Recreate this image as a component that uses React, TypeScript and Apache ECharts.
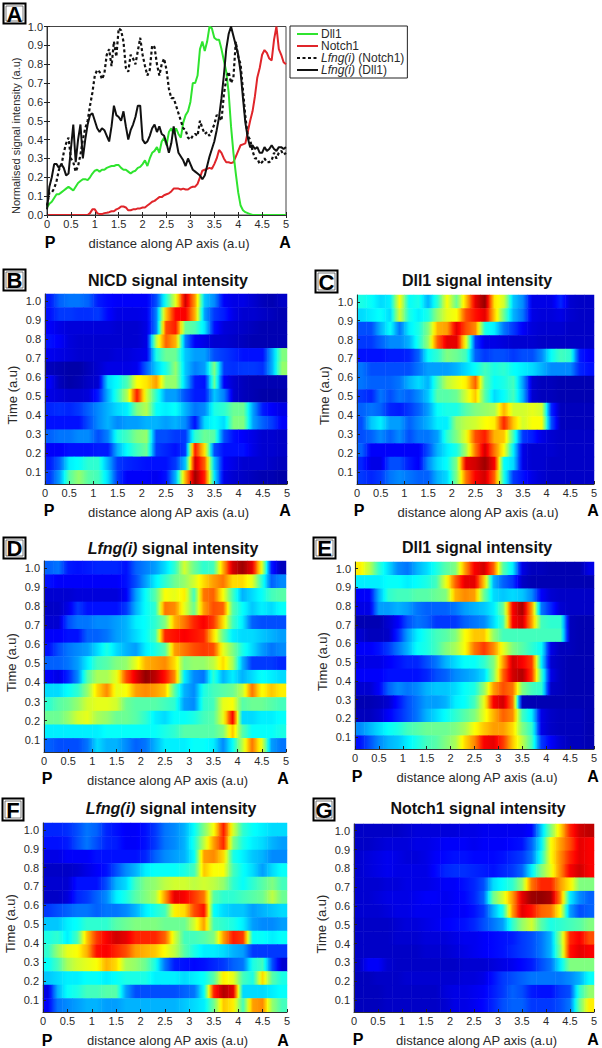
import React, { useEffect, useRef } from "react";
import * as echarts from "echarts";

const xTickLabels = [0, 0.5, 1, 1.5, 2, 2.5, 3, 3.5, 4, 4.5, 5];
const yTickLabels = [0.1, 0.2, 0.3, 0.4, 0.5, 0.6, 0.7, 0.8, 0.9, 1.0];

// Panel A, sampled every 0.05 a.u.
const dll1Line = [.04,.06,.07,.09,.11,.11,.12,.13,.14,.15,.14,.13,.15,.17,.18,.19,.19,.185,.20,.22,.235,.24,.23,.24,.24,.25,.255,.26,.26,.265,.265,.25,.24,.24,.23,.22,.23,.235,.25,.255,.27,.29,.26,.30,.33,.34,.36,.33,.39,.41,.37,.44,.46,.43,.46,.43,.41,.49,.53,.55,.60,.70,.70,.74,.88,.92,.87,.92,1.0,.99,.94,.93,.93,.88,.82,.76,.65,.47,.33,.22,.12,.05,.025,.015,.01,.005,0,0,0,0,0,0,0,0,0,0,0,0,0,0,0];
const notch1Line = [0,0,0,0,0,0,0,0,0,0,0,0,0,0,0,0,0,0,.01,.03,.03,.01,.005,.005,.01,.012,.015,.02,.02,.03,.035,.045,.045,.04,.025,.025,.03,.03,.035,.035,.04,.04,.05,.06,.07,.075,.085,.095,.095,.105,.11,.115,.125,.14,.14,.14,.135,.14,.135,.135,.145,.15,.15,.165,.20,.235,.24,.245,.25,.245,.27,.30,.345,.33,.30,.28,.28,.275,.28,.31,.34,.37,.375,.38,.44,.50,.55,.63,.73,.78,.85,.875,.86,.83,.82,.93,1.0,.88,.85,.81,.80];
const lfngNotch1Line = [.05,.12,.12,.14,.18,.24,.26,.33,.38,.41,.30,.28,.23,.26,.32,.40,.46,.50,.58,.65,.74,.77,.76,.72,.75,.85,.88,.79,.92,.84,.99,.98,.92,.78,.76,.85,.83,.80,.87,.94,.85,.79,.74,.77,.90,.89,.80,.74,.80,.83,.77,.67,.62,.62,.58,.54,.50,.46,.45,.41,.40,.42,.43,.42,.50,.46,.43,.44,.42,.45,.48,.53,.52,.50,.64,.72,.76,.70,.73,.92,.84,.80,.66,.52,.42,.40,.34,.30,.30,.27,.28,.30,.28,.28,.29,.33,.30,.33,.34,.32,.33];
const lfngDll1Line = [.03,.15,.20,.27,.27,.25,.27,.25,.21,.22,.35,.48,.28,.40,.48,.30,.40,.48,.53,.54,.50,.46,.44,.46,.45,.42,.39,.47,.58,.53,.52,.50,.55,.47,.40,.45,.48,.52,.58,.58,.40,.38,.39,.42,.46,.48,.44,.47,.43,.42,.38,.33,.38,.47,.40,.33,.31,.29,.26,.30,.27,.24,.23,.22,.21,.19,.21,.26,.31,.35,.39,.45,.52,.62,.74,.88,.96,1.0,.95,.90,.85,.76,.62,.49,.41,.36,.37,.35,.36,.33,.33,.36,.34,.35,.37,.35,.34,.36,.36,.35,.36];

// Heat panels: 14 rows from t=1.0 (top) to t=0.07, 25 columns of 0.2 a.u., values 0-100
const nicdB = [
[15,22,24,24,22,15,13,12,12,12,12,20,40,60,92,72,32,26,12,10,10,8,6,5,7],
[14,18,18,17,17,18,13,10,10,10,11,25,68,87,88,70,28,18,15,10,8,8,7,6,5],
[12,10,9,9,9,9,9,8,8,8,10,25,80,85,48,45,35,14,9,8,7,6,5,5,5],
[14,12,9,8,8,8,8,8,8,8,10,55,78,70,25,12,10,8,8,7,6,5,5,5,5],
[11,10,9,8,8,8,8,9,9,10,11,40,48,48,32,28,28,20,18,16,14,14,14,30,50],
[6,5,4,4,6,8,10,10,10,11,22,33,40,52,32,25,28,50,18,17,18,18,17,30,52],
[12,6,4,5,7,8,34,38,45,62,65,72,52,52,32,15,14,48,12,8,6,5,5,5,5],
[10,9,8,8,9,15,30,42,55,85,58,42,28,28,20,15,15,32,25,8,6,5,4,4,4],
[16,17,16,18,22,26,30,34,36,50,55,38,36,38,30,24,26,40,42,48,48,28,15,12,10],
[14,14,14,14,20,26,30,26,28,28,30,30,28,30,26,14,34,38,34,50,50,28,22,18,12],
[22,24,24,26,26,20,25,40,44,50,52,20,20,18,18,42,48,46,20,14,12,10,8,8,7],
[12,12,14,14,14,15,15,30,38,44,48,18,16,14,18,85,65,20,14,14,14,10,8,8,7],
[15,22,36,38,42,42,30,18,16,15,14,14,14,18,32,92,78,32,12,10,8,8,8,7,6],
[18,28,46,52,46,44,34,18,12,12,12,11,14,30,70,97,84,35,10,8,7,6,5,5,4],
];
const dll1C = [
[40,38,34,36,62,38,40,30,42,62,48,68,90,98,65,58,32,26,10,10,10,16,8,7,7],
[34,36,38,34,58,40,36,40,52,60,62,80,86,90,68,48,30,24,10,9,9,10,8,7,7],
[20,20,30,38,24,36,40,50,70,72,90,80,74,40,36,24,18,12,9,8,8,8,7,7,7],
[18,18,22,26,26,30,40,52,78,90,90,60,18,10,10,9,8,8,8,7,7,7,7,7,7],
[14,14,14,15,15,16,22,38,42,50,48,44,22,18,20,20,18,20,20,26,38,44,42,15,12],
[24,20,20,20,20,20,24,28,28,28,30,34,38,44,40,42,38,36,34,30,26,26,26,16,14],
[24,22,22,22,24,30,34,30,44,56,60,64,78,46,38,40,44,28,8,6,6,5,5,5,5],
[18,16,24,20,24,22,26,32,46,46,48,58,68,46,34,38,44,30,8,6,6,5,5,5,5],
[22,24,22,16,15,18,22,28,38,40,40,46,50,52,54,70,58,58,60,58,16,6,6,6,6],
[20,32,36,28,28,22,26,30,36,36,52,56,58,62,64,84,68,58,62,62,20,6,6,6,6],
[20,22,26,22,26,20,24,24,28,42,50,60,80,85,70,68,44,18,15,10,8,7,7,7,7],
[22,12,12,12,12,12,12,20,30,36,40,54,76,92,76,62,36,10,8,8,8,7,7,7,7],
[16,10,10,20,20,15,12,26,34,38,50,90,92,97,88,38,34,10,8,8,7,7,7,7,7],
[18,16,18,24,26,24,22,22,30,34,50,76,88,92,78,40,18,14,10,8,7,7,7,7,7],
];
const lfngD = [
[22,24,15,14,15,16,16,16,14,22,25,28,34,42,58,48,42,44,70,92,97,90,60,15,6],
[14,12,12,12,12,12,12,12,14,20,28,36,42,48,52,58,66,72,76,66,66,60,42,22,26],
[8,8,8,9,9,9,9,9,12,28,38,46,62,60,64,44,76,78,62,44,30,34,38,44,46],
[7,7,10,18,14,14,14,14,18,30,38,42,76,74,60,48,72,80,78,46,38,32,36,34,38],
[8,8,20,24,24,26,26,28,30,36,38,42,50,70,76,84,88,82,66,44,36,22,20,20,20],
[12,12,14,14,22,22,24,28,30,34,38,44,84,86,88,86,84,66,48,36,34,34,32,30,28],
[14,20,24,26,28,34,40,34,30,28,36,40,46,72,76,80,82,80,60,50,40,34,28,24,26],
[22,22,24,28,36,44,46,50,52,60,70,72,74,66,50,52,52,56,66,54,30,18,18,18,16],
[12,10,16,26,46,54,54,60,80,90,98,94,86,74,36,26,24,42,30,36,30,34,38,36,34],
[34,34,38,42,52,66,74,60,62,72,74,72,68,46,30,26,40,44,46,48,56,76,62,68,64],
[42,46,48,52,58,60,60,58,48,46,46,46,44,42,28,26,42,44,60,62,46,48,48,46,44],
[48,48,52,58,60,54,52,48,48,46,42,36,34,38,38,40,44,46,60,88,34,34,36,36,38],
[36,36,36,36,36,36,38,38,38,38,38,38,40,42,46,46,46,46,50,68,46,38,38,38,40],
[22,20,20,20,24,34,30,30,26,22,24,30,36,36,36,38,38,36,26,38,56,76,60,28,24],
];
const dll1E = [
[64,56,42,34,26,24,30,34,40,46,50,72,88,92,78,46,36,10,6,6,5,5,5,5,10],
[36,36,36,38,38,36,38,40,44,60,78,90,90,68,30,22,18,7,5,5,5,5,5,5,5],
[12,12,30,42,44,44,46,46,48,50,70,74,72,48,34,32,34,32,26,12,8,7,7,7,7],
[10,10,28,28,30,28,24,22,22,22,24,28,30,32,36,48,88,96,72,24,16,8,7,7,7],
[5,5,5,8,12,20,24,22,18,18,18,22,24,26,34,44,88,92,72,44,42,42,6,5,5],
[8,6,6,7,16,28,36,40,44,46,50,62,68,68,52,44,44,44,44,44,44,44,6,5,5],
[12,12,14,18,24,30,38,40,44,50,54,62,76,82,74,60,50,46,42,38,10,6,6,5,5],
[10,10,10,12,14,16,16,20,24,30,34,38,38,42,50,72,92,88,82,36,8,6,5,5,5],
[12,12,12,14,14,14,14,16,20,22,26,28,30,34,50,78,92,95,82,44,10,6,5,5,5],
[8,8,12,22,26,24,26,30,32,32,34,38,40,52,72,80,76,50,44,42,7,6,5,5,5],
[5,5,6,8,14,20,24,28,28,30,36,38,44,60,88,92,76,6,5,5,5,5,5,5,5],
[6,6,8,12,16,20,24,30,34,38,42,46,50,60,70,78,74,44,36,10,7,6,6,6,5],
[26,30,34,38,40,44,46,48,48,48,50,54,62,68,72,72,66,50,42,10,7,6,6,6,5],
[14,20,26,30,32,36,40,44,46,50,54,66,74,88,90,82,68,56,44,18,12,8,6,6,5],
];
const lfngF = [
[16,16,17,20,24,22,16,14,12,12,14,18,24,26,30,38,50,62,85,58,42,38,36,34,34],
[14,14,15,20,24,20,16,15,12,12,14,18,24,26,30,40,56,72,84,50,40,36,34,30,28],
[10,10,12,12,12,14,14,14,14,14,16,22,26,28,30,38,72,74,66,40,36,32,30,26,26],
[7,7,7,8,10,12,14,20,26,30,36,38,38,38,40,44,68,62,62,44,38,34,28,34,38],
[8,8,8,14,14,14,20,30,34,44,50,52,56,58,58,56,58,56,52,42,38,42,46,50,44],
[7,7,9,16,18,22,26,36,40,46,50,54,72,90,88,82,76,46,42,42,44,46,48,56,48],
[18,20,22,24,24,22,24,24,26,30,36,40,44,64,66,80,86,38,34,32,32,28,30,32,34],
[32,32,36,38,42,42,42,46,48,50,50,50,48,48,48,58,72,44,42,40,36,28,26,26,28],
[40,42,36,44,68,82,88,92,90,84,84,84,78,58,44,44,46,50,72,85,82,38,38,36,38],
[42,52,60,62,70,86,88,84,80,72,70,68,62,56,46,40,36,36,34,30,28,18,18,18,18],
[38,44,54,58,60,62,70,66,54,52,48,40,24,15,14,13,14,16,18,22,24,40,44,20,8],
[32,34,36,36,38,38,36,38,40,40,40,36,36,36,34,36,38,46,64,60,44,40,66,46,40],
[10,30,38,40,44,44,46,46,28,20,20,20,20,20,22,24,38,84,95,90,34,34,34,36,38],
[12,24,26,28,30,30,28,28,30,30,30,30,30,30,32,34,36,48,68,64,44,72,74,52,44],
];
const notch1G = [
[7,7,7,7,7,8,9,9,9,9,9,10,10,11,11,11,11,11,13,32,50,66,84,92,94],
[7,7,8,9,9,9,10,10,11,12,12,12,11,12,12,12,13,14,22,36,62,72,80,90,88],
[8,9,10,11,10,9,9,10,12,13,14,14,13,13,13,14,16,18,24,40,62,74,84,90,88],
[8,9,10,11,10,10,10,10,13,16,17,17,16,15,14,16,18,22,36,50,60,74,88,92,88],
[8,8,8,9,9,10,10,10,11,12,12,14,16,20,34,38,42,52,76,84,84,72,64,50,50],
[8,8,9,10,10,10,11,12,12,11,12,13,16,22,48,58,72,90,97,98,96,74,36,26,22],
[8,8,8,9,10,10,11,11,11,11,12,12,14,18,30,40,72,90,86,78,76,62,28,20,22],
[7,7,7,7,8,9,9,10,11,12,13,14,16,20,24,28,42,52,58,46,40,42,44,46,50],
[7,7,7,7,8,8,8,9,9,9,10,11,11,12,13,14,15,18,20,24,30,52,84,88,80],
[7,7,7,7,7,7,7,8,8,8,9,10,11,12,13,14,16,18,20,24,30,50,86,90,88],
[7,12,12,8,7,7,7,7,7,7,7,8,8,8,9,10,11,13,15,20,24,36,50,50,50],
[6,6,7,7,7,8,8,8,8,8,8,9,9,10,14,18,20,22,24,24,24,24,26,30,38],
[6,6,6,7,7,7,7,7,7,9,10,10,11,12,15,18,22,20,15,14,14,18,20,42,52],
[6,6,6,7,7,7,7,7,7,8,10,10,11,13,16,20,22,22,18,18,18,20,24,48,64],
];

const FONT = "'Liberation Sans', Arial, sans-serif";
const TEXT = "#2a2a2a";

type Panel = {
  letter: string; rows: number[][]; title: string;
  grid: number[]; box: number[]; titleAt: number[]; pAt: number[]; aAt: number[];
};
const panels: Panel[] = [
  { letter: "B", rows: nicdB, title: "NICD signal intensity", grid: [45, 294, 287, 484], box: [3, 269, 22, 21], titleAt: [168, 280], pAt: [49, 510], aAt: [285, 510] },
  { letter: "C", rows: dll1C, title: "Dll1 signal intensity", grid: [357, 295, 594, 484], box: [315, 270, 22, 22], titleAt: [477, 280], pAt: [359, 510], aAt: [593, 510] },
  { letter: "D", rows: lfngD, title: "{i|Lfng(i)} signal intensity", grid: [44, 561, 286, 752], box: [3, 537, 22, 21], titleAt: [173, 548], pAt: [47, 778], aAt: [283, 778] },
  { letter: "E", rows: dll1E, title: "Dll1 signal intensity", grid: [355, 562, 594, 749], box: [313, 537, 22, 21], titleAt: [477, 547], pAt: [357, 776], aAt: [593, 776] },
  { letter: "F", rows: lfngF, title: "{i|Lfng(i)} signal intensity", grid: [43, 823, 287, 1014], box: [2, 798, 21, 22], titleAt: [171, 808], pAt: [47, 1040], aAt: [283, 1040] },
  { letter: "G", rows: notch1G, title: "Notch1 signal intensity", grid: [354, 824, 594, 1013], box: [313, 798, 21, 22], titleAt: [478, 808], pAt: [358, 1039], aAt: [593, 1039] },
];

const jetStops: [number, number[]][] = [
  [0, [0, 0, 128]], [12.5, [0, 0, 255]], [37.5, [0, 255, 255]], [50, [128, 255, 128]],
  [62.5, [255, 255, 0]], [87.5, [255, 0, 0]], [100, [128, 0, 0]],
];
function jet(v: number): string {
  for (let i = 1; i < jetStops.length; i++) {
    const [b, cb] = jetStops[i];
    const [a, ca] = jetStops[i - 1];
    if (v <= b) {
      const t = (v - a) / (b - a);
      return `rgb(${ca.map((c, k) => Math.round(c + (cb[k] - c) * t)).join(",")})`;
    }
  }
  return "rgb(128,0,0)";
}

function cellColor(row: number[], i: number) {
  const v = row[i];
  const l = i > 0 ? (row[i - 1] + v) / 2 : v;
  const r = i < row.length - 1 ? (row[i + 1] + v) / 2 : v;
  return {
    type: "linear", x: 0, y: 0, x2: 1, y2: 0,
    colorStops: [
      { offset: 0, color: jet(l) },
      { offset: 0.25, color: jet((l + v) / 2) },
      { offset: 0.5, color: jet(v) },
      { offset: 0.75, color: jet((r + v) / 2) },
      { offset: 1, color: jet(r) },
    ],
  };
}

function letterBox(letter: string, b: number[]) {
  const [x, y, w, h] = b;
  return [
    { type: "rect", shape: { x: x + 0.5, y: y + 0.5, width: w, height: h }, style: { fill: "#fff", stroke: "#000", lineWidth: 2 } },
    { type: "rect", shape: { x: x + 3, y: y + 3, width: w - 5, height: h - 5 }, style: { fill: "none", stroke: "#444", lineWidth: 0.7 } },
    { type: "text", x: x + w / 2 + 0.5, y: y + h / 2 + 1, style: { text: letter, font: `bold 22px ${FONT}`, fill: "#000", align: "center", verticalAlign: "middle" } },
  ];
}
function mark(text: string, at: number[]) {
  return { type: "text", x: at[0], y: at[1], style: { text, font: `bold 16px ${FONT}`, fill: "#000", align: "center", verticalAlign: "middle" } };
}

const visibleX = (gridIndex: number) => ({
  type: "value", gridIndex, min: 0, max: 5, position: "bottom", z: 6,
  name: "distance along AP axis (a.u)", nameLocation: "middle", nameGap: 22,
  nameTextStyle: { fontFamily: FONT, fontSize: 13, color: TEXT, padding: [0, 0, 0, 5] },
  axisLine: { show: true, onZero: false, lineStyle: { color: "#333", width: 1 } },
  axisTick: { show: true, inside: true, length: 3, customValues: xTickLabels, lineStyle: { color: "#222" } },
  axisLabel: { show: true, customValues: xTickLabels, formatter: (v: number) => String(v), fontFamily: FONT, fontSize: 11, color: TEXT, margin: 3, hideOverlap: false },
  splitLine: { show: false },
});

function buildOption() {
  const grid: any[] = [];
  const xAxis: any[] = [];
  const yAxis: any[] = [];
  const series: any[] = [];
  const title: any[] = [];
  const graphic: any[] = [];

  // Panel A
  grid.push({ left: 47, top: 26.5, width: 239, height: 188.5, show: true, borderColor: "#444", borderWidth: 1, backgroundColor: "#fff" });
  xAxis.push(visibleX(0));
  xAxis.push({ type: "value", gridIndex: 0, min: 0, max: 5, position: "top", axisLine: { show: false }, axisLabel: { show: false }, axisTick: { show: true, inside: true, length: 3, customValues: xTickLabels, lineStyle: { color: "#222" } }, splitLine: { show: false } });
  yAxis.push({
    type: "value", gridIndex: 0, min: 0, max: 1, interval: 0.1, position: "left",
    name: "Normalised signal intensity (a.u)", nameLocation: "middle", nameGap: 26,
    nameTextStyle: { fontFamily: FONT, fontSize: 11, color: TEXT, padding: [0, 30, 0, 0] },
    axisLine: { show: true, onZero: false, lineStyle: { color: "#333" } },
    axisTick: { show: true, inside: true, length: 3, lineStyle: { color: "#222" } },
    axisLabel: { formatter: (v: number) => v.toFixed(1), fontFamily: FONT, fontSize: 11, color: TEXT, margin: 4 },
    splitLine: { show: false },
  });
  yAxis.push({ type: "value", gridIndex: 0, min: 0, max: 1, interval: 0.1, position: "right", axisLine: { show: false }, axisLabel: { show: false }, axisTick: { show: true, inside: true, length: 3, lineStyle: { color: "#222" } }, splitLine: { show: false } });

  const lineSeries = (name: string, vals: number[], color: string, width: number, type: any = "solid") => ({
    type: "line", name, xAxisIndex: 0, yAxisIndex: 0, symbol: "none", clip: true,
    data: vals.map((v, i) => [i * 0.05, v]), itemStyle: { color },
    lineStyle: { color, width, type },
  });
  series.push(lineSeries("Notch1", notch1Line, "#e0252a", 2));
  series.push(lineSeries("Dll1", dll1Line, "#2fe42f", 2));
  series.push(lineSeries("Lfng(i) (Notch1)", lfngNotch1Line, "#111", 2.2, [3, 2.5]));
  series.push(lineSeries("Lfng(i) (Dll1)", lfngDll1Line, "#111", 2));

  graphic.push(...letterBox("A", [3, 3, 22, 20]), mark("P", [50, 242]), mark("A", [285, 242]));

  const heatIdx: number[] = [];
  const colCats = panels[0].rows[0].map((_, i) => String(i));
  const rowCats = panels[0].rows.map((_, i) => String(i));

  panels.forEach((p, k) => {
    const gi = k + 1;
    const [x0, y0, x1, y1] = p.grid;
    grid.push({ left: x0, top: y0, width: x1 - x0, height: y1 - y0 });
    const vx = xAxis.length;
    xAxis.push({ type: "category", gridIndex: gi, data: colCats, show: false, boundaryGap: true });
    xAxis.push(visibleX(gi));
    const vy = yAxis.length;
    yAxis.push({ type: "category", gridIndex: gi, data: rowCats, show: false, boundaryGap: true });
    yAxis.push({
      type: "value", gridIndex: gi, min: 0.5 / 14, max: 14.5 / 14, position: "left", z: 6,
      name: "Time (a.u)", nameLocation: "middle", nameGap: 26,
      nameTextStyle: { fontFamily: FONT, fontSize: 13, color: TEXT, padding: [0, 12, 0, 0] },
      axisLine: { show: true, onZero: false, lineStyle: { color: "#333" } },
      axisTick: { show: true, inside: true, length: 3, customValues: yTickLabels, lineStyle: { color: "#222" } },
      axisLabel: { customValues: yTickLabels, formatter: (v: number) => v.toFixed(1), fontFamily: FONT, fontSize: 11, color: TEXT, margin: 4 },
      splitLine: { show: false },
    });
    const data: any[] = [];
    p.rows.forEach((row, r) => {
      row.forEach((v, c) => {
        data.push({ value: [c, p.rows.length - 1 - r, v], itemStyle: { color: cellColor(row, c) } });
      });
    });
    heatIdx.push(series.length);
    series.push({ type: "heatmap", name: `${p.letter} heat`, xAxisIndex: vx, yAxisIndex: vy, data, progressive: 0, silent: true });

    title.push({
      text: p.title, left: p.titleAt[0], top: p.titleAt[1], textAlign: "center", textVerticalAlign: "middle", padding: 0,
      textStyle: { fontFamily: FONT, fontSize: 16, fontWeight: "bold", color: "#111", rich: { i: { fontFamily: FONT, fontSize: 16, fontWeight: "bold", fontStyle: "italic", color: "#111" } } },
    });
    graphic.push(...letterBox(p.letter, p.box), mark("P", p.pAt), mark("A", p.aAt));
  });

  return {
    animation: false,
    backgroundColor: "#fff",
    title, grid, xAxis, yAxis, series,
    graphic: { elements: graphic },
    visualMap: { show: false, type: "continuous", seriesIndex: heatIdx, dimension: 2, min: 0, max: 100, inRange: { opacity: [1, 1] } },
    legend: {
      left: 290, top: 26, orient: "vertical", show: true, padding: [2, 3, 2, 6], itemGap: 0, itemWidth: 21, itemHeight: 10,
      borderColor: "#222", borderWidth: 1, backgroundColor: "#fff", selectedMode: false,
      itemStyle: { opacity: 0 },
      data: ["Dll1", "Notch1", "Lfng(i) (Notch1)", "Lfng(i) (Dll1)"],
      formatter: (n: string) => (n.startsWith("Lfng") ? n.replace("Lfng(i)", "{i|Lfng(i)}") : n),
      textStyle: { fontFamily: FONT, fontSize: 12, lineHeight: 12, color: TEXT, padding: [0, 0, 0, -2], rich: { i: { fontFamily: FONT, fontSize: 12, lineHeight: 12, fontStyle: "italic", color: TEXT } } },
    },
  } as any;
}

export default function App() {
  const ref = useRef<HTMLDivElement>(null);
  useEffect(() => {
    const chart = echarts.init(ref.current!, undefined, { renderer: "svg" });
    chart.setOption(buildOption());
    return () => chart.dispose();
  }, []);
  return <div ref={ref} style={{ position: "absolute", left: 0, top: 0, width: 602, height: 1048 }} />;
}
